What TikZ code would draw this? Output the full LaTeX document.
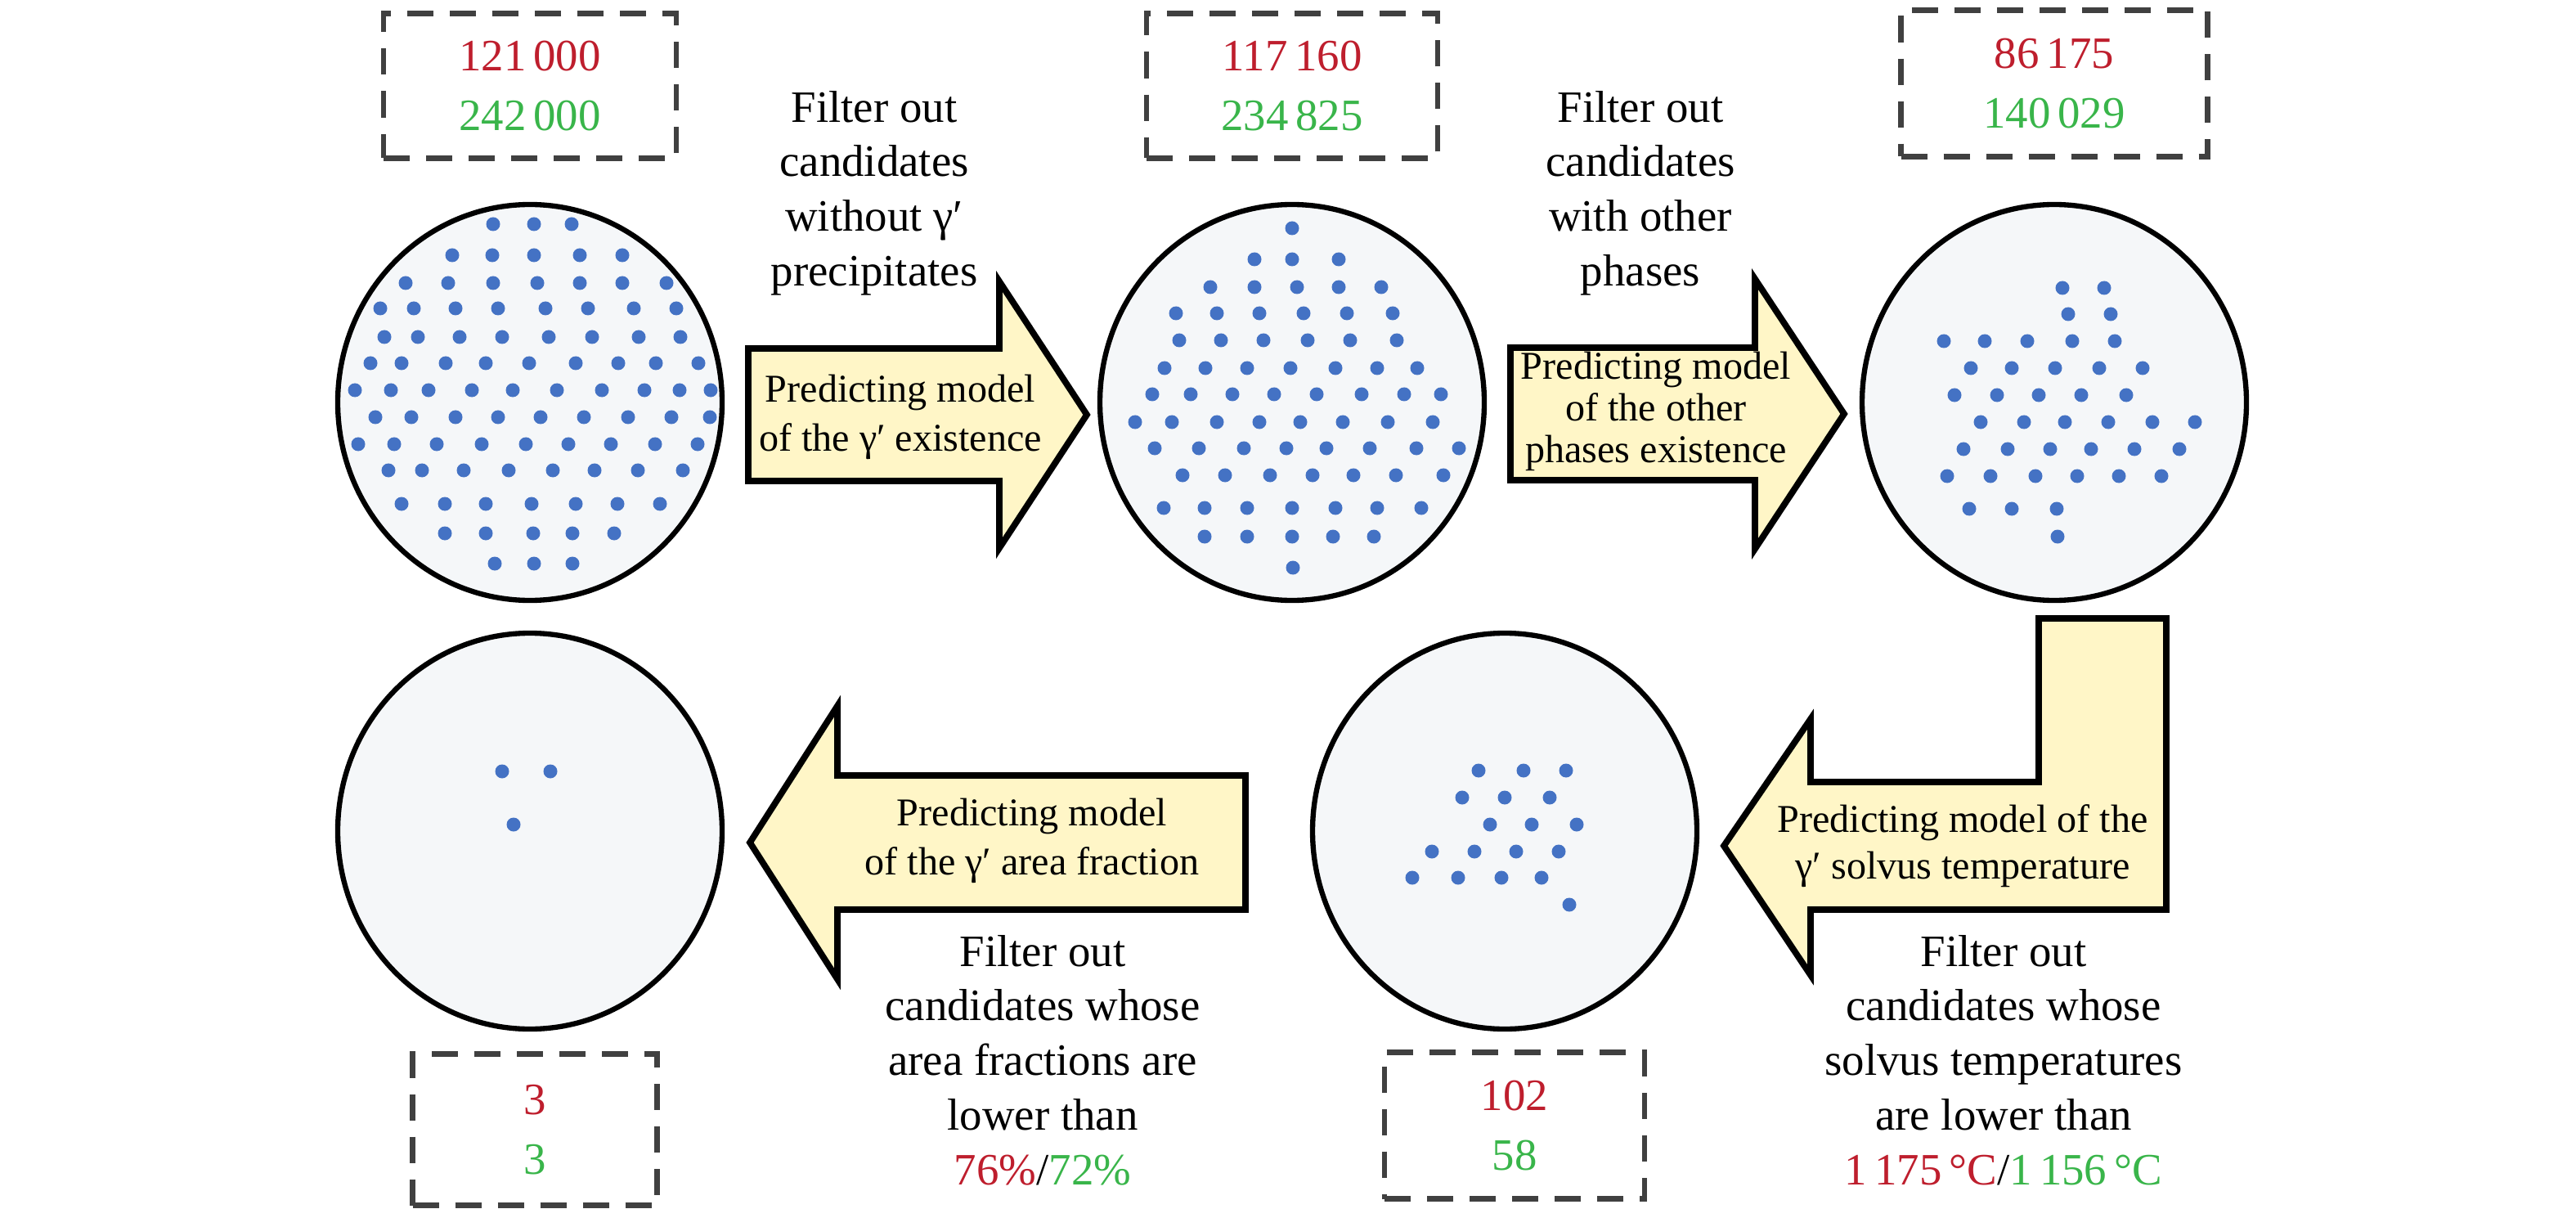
\documentclass[tikz,border=0pt]{standalone}
\usepackage{fontspec}
\setmainfont{Liberation Serif}
\usetikzlibrary{shapes,arrows,positioning}

\definecolor{numred}{RGB}{190,30,45}
\definecolor{numgreen}{RGB}{57,181,74}
\definecolor{dotblue}{RGB}{68,114,196}
\definecolor{dishfill}{RGB}{245,247,249}
\definecolor{arrowfill}{RGB}{255,246,199}
\definecolor{dashgray}{RGB}{64,64,64}

\begin{document}
\begin{tikzpicture}[node distance=9.32cm, auto]

\useasboundingbox (0,0) rectangle (31.5,14.77);

% Define styles
\tikzstyle{dish} = [ellipse, draw, line width=1.8pt, fill=dishfill, minimum width=4.7cm, minimum height=4.84cm]
\tikzstyle{count} = [rectangle, draw=dashgray, line width=1.8pt, dash pattern=on 0.32cm off 0.2cm, align=center, font=\fontsize{15.6}{20.8}\selectfont]
\tikzstyle{filter} = [align=center, font=\fontsize{15.6}{19}\selectfont]
\tikzstyle{model} = [align=center, font=\fontsize{13.7}{17}\selectfont]
\tikzstyle{block} = [draw, line width=2.2pt, fill=arrowfill]

% Dishes
\node [dish] (dish1) at (6.48,9.85) {};
\node [dish, right of=dish1] (dish2) {};
\node [dish, right of=dish2] (dish3) {};
\node [dish, below of=dish1, node distance=5.24cm] (dish5) {};
\node [dish, right of=dish5, node distance=11.92cm] (dish4) {};

% Precipitates
\begin{scope}[shift={(dish1.center)}]
\foreach \y/\xs in {2.18/{-0.45,0.05,0.51}, 1.80/{-0.95,-0.46,0.05,0.61,1.13},
  1.46/{-1.52,-1.00,-0.45,0.09,0.61,1.13,1.67}, 1.15/{-1.83,-1.42,-0.91,-0.39,0.19,0.71,1.27,1.79},
  0.80/{-1.78,-1.37,-0.86,-0.34,0.23,0.76,1.33,1.84}, 0.48/{-1.95,-1.57,-1.03,-0.54,-0.01,0.56,1.08,1.54,2.06},
  0.15/{-2.14,-1.70,-1.24,-0.71,-0.21,0.33,0.88,1.40,1.83,2.21}, -0.18/{-1.89,-1.45,-0.91,-0.39,0.13,0.66,1.20,1.73,2.20},
  -0.51/{-2.10,-1.66,-1.14,-0.59,-0.05,0.47,0.99,1.53,2.05}, -0.83/{-1.73,-1.32,-0.81,-0.26,0.28,0.79,1.32,1.87},
  -1.24/{-1.57,-1.04,-0.54,0.02,0.56,1.07,1.59}, -1.60/{-1.04,-0.54,0.04,0.52,1.03}, -1.97/{-0.43,0.05,0.52}}
  \foreach \x in \xs \fill [dotblue] (\x,\y) circle (0.085);
\end{scope}
\begin{scope}[shift={(dish2.center)}]
\foreach \y/\xs in {2.13/{0.00}, 1.75/{-0.46,0.00,0.57}, 1.41/{-1.00,-0.46,0.06,0.57,1.09},
  1.09/{-1.42,-0.92,-0.40,0.14,0.67,1.23}, 0.76/{-1.38,-0.87,-0.35,0.19,0.71,1.28},
  0.42/{-1.56,-1.06,-0.55,-0.02,0.53,1.04,1.53}, 0.10/{-1.71,-1.24,-0.73,-0.22,0.30,0.85,1.37,1.82},
  -0.24/{-1.92,-1.47,-0.92,-0.40,0.10,0.62,1.17,1.72}, -0.56/{-1.68,-1.14,-0.59,-0.07,0.42,0.95,1.52,2.04},
  -0.89/{-1.34,-0.82,-0.27,0.25,0.75,1.27,1.85}, -1.29/{-1.57,-1.07,-0.55,0.00,0.53,1.04,1.58},
  -1.64/{-1.07,-0.55,0.00,0.50,1.00}, -2.02/{0.01}}
  \foreach \x in \xs \fill [dotblue] (\x,\y) circle (0.085);
\end{scope}
\begin{scope}[shift={(dish3.center)}]
\foreach \y/\xs in {1.40/{0.10,0.61}, 1.08/{0.17,0.69}, 0.75/{-1.35,-0.85,-0.33,0.22,0.74},
  0.42/{-1.02,-0.52,0.01,0.55,1.08}, 0.09/{-1.22,-0.70,-0.19,0.33,0.88},
  -0.24/{-0.90,-0.37,0.13,0.66,1.20,1.72}, -0.57/{-1.11,-0.57,-0.05,0.45,0.98,1.53},
  -0.90/{-1.31,-0.78,-0.23,0.28,0.79,1.31}, -1.30/{-1.04,-0.52,0.03}, -1.64/{0.04}}
  \foreach \x in \xs \fill [dotblue] (\x,\y) circle (0.085);
\end{scope}
\begin{scope}[shift={(dish4.center)}]
\foreach \y/\xs in {0.74/{-0.32,0.23,0.75}, 0.41/{-0.52,0.00,0.55}, 0.08/{-0.18,0.33,0.88},
  -0.25/{-0.89,-0.37,0.14,0.66}, -0.57/{-1.13,-0.57,-0.04,0.45}, -0.90/{0.79}}
  \foreach \x in \xs \fill [dotblue] (\x,\y) circle (0.085);
\end{scope}
\begin{scope}[shift={(dish5.center)}]
\foreach \y/\xs in {0.73/{-0.34,0.25}, 0.08/{-0.20}}
  \foreach \x in \xs \fill [dotblue] (\x,\y) circle (0.085);
\end{scope}

% Candidate counts
\node [count, minimum width=3.58cm, minimum height=1.77cm, above of=dish1, node distance=3.87cm] (count1) {\textcolor{numred}{121\,000}\\\textcolor{numgreen}{242\,000}};
\node [count, minimum width=3.56cm, minimum height=1.77cm, above of=dish2, node distance=3.87cm] (count2) {\textcolor{numred}{117\,160}\\\textcolor{numgreen}{234\,825}};
\node [count, minimum width=3.75cm, minimum height=1.79cm, above of=dish3, node distance=3.9cm] (count3) {\textcolor{numred}{86\,175}\\\textcolor{numgreen}{140\,029}};
\node [count, minimum width=3.18cm, minimum height=1.79cm, below of=dish4, node distance=3.6cm, xshift=0.12cm] (count4) {\textcolor{numred}{102}\\\textcolor{numgreen}{58}};
\node [count, minimum width=2.99cm, minimum height=1.85cm, below of=dish5, node distance=3.65cm, xshift=0.06cm] (count5) {\textcolor{numred}{3}\\\textcolor{numgreen}{3}};

% Arrows
\draw [block] (9.15,8.89) -- (12.22,8.89) -- (12.22,8.07) -- (13.29,9.70) -- (12.22,11.33) -- (12.22,10.51) -- (9.15,10.51) -- cycle;
\draw [block] (18.47,8.90) -- (21.46,8.90) -- (21.46,8.06) -- (22.55,9.71) -- (21.46,11.36) -- (21.46,10.52) -- (18.47,10.52) -- cycle;
\draw [block] (21.08,4.43) -- (22.14,5.98) -- (22.14,5.21) -- (24.93,5.21) -- (24.93,7.21) -- (26.49,7.21) -- (26.49,3.65) -- (22.14,3.65) -- (22.14,2.85) -- cycle;
\draw [block] (15.23,3.65) -- (10.24,3.65) -- (10.24,2.80) -- (9.17,4.47) -- (10.24,6.14) -- (10.24,5.29) -- (15.23,5.29) -- cycle;

% Models
\node [model] (model1) at (11.01,9.67) {Predicting model\\of the γ′ existence};
\node [model, font=\fontsize{13.7}{14.4}\selectfont] (model2) at (20.25,9.74) {Predicting model\\of the other\\phases existence};
\node [model, font=\fontsize{13.7}{16.2}\selectfont] (model3) at (24.00,4.43) {Predicting model of the\\γ′ solvus temperature};
\node [model] (model4) at (12.62,4.49) {Predicting model\\of the γ′ area fraction};

% Filters
\node [filter] (filter1) at (10.69,12.41) {Filter out\\candidates\\without γ′\\precipitates};
\node [filter] (filter2) at (20.06,12.41) {Filter out\\candidates\\with other\\phases};
\node [filter] (filter3) at (24.50,1.81) {Filter out\\candidates whose\\solvus temperatures\\are lower than\\\textcolor{numred}{1\,175\,°C}/\textcolor{numgreen}{1\,156\,°C}};
\node [filter] (filter4) at (12.75,1.81) {Filter out\\candidates whose\\area fractions are\\lower than\\\textcolor{numred}{76\%}/\textcolor{numgreen}{72\%}};

\end{tikzpicture}
\end{document}
